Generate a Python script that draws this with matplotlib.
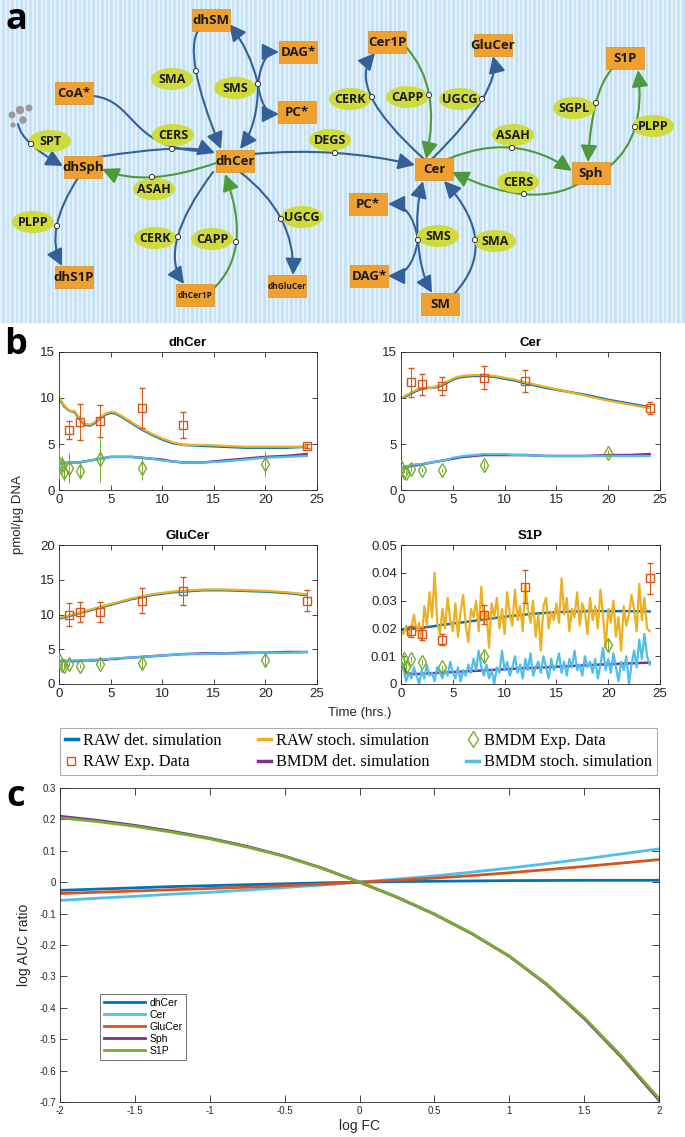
import numpy as np
import matplotlib
matplotlib.use("Agg")
import matplotlib.pyplot as plt
from matplotlib.patches import Rectangle, Ellipse, Circle, FancyArrowPatch
from matplotlib.path import Path
from matplotlib.lines import Line2D

W, H = 685, 1137

# ---------------- Panel a : pathway diagram ----------------
species = ['dhSM', 'DAG*', 'CoA*', 'PC*', 'dhCer', 'dhSph', 'dhS1P', 'dhCer1P', 'dhGluCer',
           'Cer1P', 'GluCer', 'S1P', 'Cer', 'Sph', 'PC*', 'DAG*', 'SM']
species_xy = [(211, 20), (298, 52), (74, 93), (297, 112), (235, 161), (83, 167), (74, 277),
              (195, 295), (287, 286), (387, 42), (493, 45), (625, 58), (434, 169), (591, 173),
              (368, 204), (369, 276), (440, 304)]
enzymes = ['SMA', 'SMS', 'SPT', 'CERS', 'DEGS', 'ASAH', 'PLPP', 'UGCG', 'CERK', 'CAPP',
           'CERK', 'CAPP', 'UGCG', 'SGPL', 'PLPP', 'ASAH', 'CERS', 'SMS', 'SMA']
enzyme_xy = [(172, 79), (235, 88), (50, 141), (173, 135), (330, 140), (154, 189), (33, 222),
             (302, 217), (155, 238), (212, 239), (350, 99), (407, 97), (460, 99), (574, 108),
             (653, 126), (513, 135), (518, 182), (438, 236), (495, 241)]
# reactions: start, reaction point, end, colour key
reactions = [
    ((18, 124), (31, 144), (63, 166), 'b'),
    ((98, 157), (172, 149), (215, 153), 'b'),
    ((199, 29), (196, 71), (221, 149), 'b'),
    ((253, 154), (335, 153), (415, 165), 'b'),
    ((78, 178), (57, 226), (62, 266), 'b'),
    ((213, 172), (178, 237), (184, 284), 'b'),
    ((240, 172), (281, 219), (293, 275), 'b'),
    ((424, 159), (372, 97), (375, 53), 'b'),
    ((432, 159), (482, 99), (493, 56), 'b'),
    ((455, 293), (475, 240), (444, 181), 'b'),
    ((216, 163), (152, 177), (102, 169), 'g'),
    ((212, 290), (236, 242), (225, 174), 'g'),
    ((406, 47), (429, 95), (426, 159), 'g'),
    ((448, 159), (512, 148), (572, 171), 'g'),
    ((580, 183), (524, 194), (452, 172), 'g'),
    ((612, 69), (596, 103), (588, 162), 'g'),
    ((610, 166), (635, 127), (638, 70), 'g'),
]
# branches from SMS reaction points: start, control, end
sms_points = [(258, 84), (418, 240)]
branches = [
    ((258, 84), (250, 50), (229, 24)),
    ((258, 84), (258, 125), (240, 149)),
    ((258, 84), (262, 52), (279, 52)),
    ((258, 84), (262, 114), (279, 114)),
    ((418, 240), (415, 210), (423, 181)),
    ((418, 240), (420, 272), (432, 293)),
    ((418, 240), (412, 204), (388, 204)),
    ((418, 240), (412, 276), (388, 276)),
]
coa_curve = [(93, 96), (135, 100), (130, 148), (200, 151)]
dots_xy = [(12, 115), (20, 110), (29, 108), (23, 120), (13, 125)]
dots_r = [3.5, 4.2, 3.5, 3.8, 2.7]

# ---------------- Panel b : time courses ----------------
T_SIM = [0, 0.5, 1, 1.5, 2, 2.5, 3, 3.5, 4, 4.5, 5, 5.5, 6, 7, 8, 9, 10, 11, 12, 14, 16, 18, 20, 22, 24]
T_RAW = [1, 2, 4, 8, 12, 24]
T_BMDM = [0, 0.25, 0.5, 1, 2, 4, 8, 20]

dhcer_raw_det = [10.0, 9.1, 8.6, 8.5, 7.7, 7.1, 7.0, 7.3, 7.8, 8.2, 8.4, 8.3, 8.0, 7.3, 6.6, 6.0, 5.5, 5.1, 4.9, 4.8, 4.7, 4.6, 4.6, 4.6, 4.7]
dhcer_raw_sto = [10.1, 9.2, 8.6, 8.6, 7.8, 7.2, 7.1, 7.4, 7.9, 8.3, 8.5, 8.4, 8.1, 7.4, 6.7, 6.1, 5.6, 5.2, 4.9, 4.9, 4.8, 4.7, 4.7, 4.7, 4.7]
dhcer_bm_det = [2.8, 2.9, 3.0, 3.0, 3.0, 3.1, 3.2, 3.3, 3.4, 3.5, 3.6, 3.6, 3.6, 3.6, 3.5, 3.4, 3.3, 3.1, 3.0, 3.0, 3.2, 3.4, 3.6, 3.7, 3.9]
dhcer_bm_sto = [2.7, 2.9, 3.0, 3.0, 3.0, 3.1, 3.2, 3.3, 3.4, 3.5, 3.6, 3.6, 3.6, 3.6, 3.5, 3.4, 3.2, 3.1, 3.0, 3.0, 3.1, 3.3, 3.5, 3.6, 3.7]
dhcer_raw_exp = [6.5, 7.4, 7.5, 8.9, 7.1, 4.8]
dhcer_raw_err = [0.95, 1.95, 1.7, 2.2, 1.4, 0.2]
dhcer_bm_exp = [2.9, 2.7, 2.0, 2.4, 2.1, 3.4, 2.4, 2.8]
dhcer_bm_err = [1.7, 1.0, 1.0, 1.6, 0.9, 2.5, 1.35, 1.4]

cer_raw_det = [10.0, 10.2, 10.5, 10.8, 11.0, 11.1, 11.1, 11.2, 11.4, 11.7, 12.0, 12.2, 12.3, 12.4, 12.4, 12.3, 12.1, 11.9, 11.6, 11.1, 10.7, 10.3, 9.8, 9.4, 9.0]
cer_raw_sto = [10.0, 10.3, 10.6, 10.9, 11.1, 11.1, 11.1, 11.3, 11.5, 11.8, 12.1, 12.3, 12.4, 12.5, 12.5, 12.4, 12.2, 12.0, 11.7, 11.2, 10.7, 10.2, 9.7, 9.3, 8.9]
cer_bm_det = [2.4, 2.5, 2.6, 2.7, 2.8, 2.9, 3.0, 3.1, 3.2, 3.3, 3.4, 3.5, 3.6, 3.7, 3.8, 3.8, 3.8, 3.8, 3.8, 3.7, 3.7, 3.7, 3.8, 3.8, 3.9]
cer_bm_sto = [2.5, 2.6, 2.7, 2.8, 2.8, 2.9, 3.0, 3.1, 3.2, 3.3, 3.5, 3.6, 3.7, 3.8, 3.9, 3.9, 3.9, 3.8, 3.8, 3.7, 3.7, 3.7, 3.7, 3.7, 3.7]
cer_raw_exp = [11.7, 11.5, 11.3, 12.2, 11.8, 8.9]
cer_raw_err = [1.6, 1.15, 0.95, 1.25, 1.2, 0.65]
cer_bm_exp = [2.5, 2.0, 1.9, 2.3, 2.2, 2.2, 2.7, 4.0]
cer_bm_err = [0.2, 0.2, 0.2, 0.2, 0.2, 0.2, 0.45, 0.4]

glu_raw_det = [9.4, 9.6, 9.8, 10.0, 10.2, 10.4, 10.6, 10.8, 11.0, 11.2, 11.4, 11.6, 11.8, 12.2, 12.5, 12.8, 13.0, 13.2, 13.3, 13.5, 13.5, 13.4, 13.3, 13.1, 12.8]
glu_raw_sto = [9.5, 9.7, 9.9, 10.1, 10.3, 10.5, 10.7, 10.9, 11.1, 11.3, 11.5, 11.7, 11.9, 12.3, 12.6, 12.9, 13.1, 13.3, 13.4, 13.6, 13.6, 13.5, 13.4, 13.2, 12.9]
glu_bm_det = [3.3, 3.3, 3.3, 3.3, 3.3, 3.4, 3.4, 3.4, 3.5, 3.5, 3.6, 3.6, 3.7, 3.8, 3.9, 4.0, 4.1, 4.2, 4.3, 4.4, 4.4, 4.5, 4.5, 4.6, 4.6]
glu_bm_sto = [3.3, 3.3, 3.3, 3.4, 3.4, 3.4, 3.5, 3.5, 3.5, 3.6, 3.6, 3.7, 3.7, 3.8, 3.9, 4.0, 4.1, 4.2, 4.3, 4.3, 4.4, 4.4, 4.5, 4.5, 4.6]
glu_raw_exp = [10.0, 10.4, 10.3, 12.0, 13.4, 12.0]
glu_raw_err = [1.65, 1.45, 1.45, 1.8, 2.05, 1.55]
glu_bm_exp = [3.4, 2.8, 2.6, 2.9, 2.6, 2.9, 3.0, 3.5]
glu_bm_err = [0.8, 0.5, 0.4, 0.3, 0.3, 0.4, 0.7, 1.05]

s1p_raw_det = [0.0195, 0.0195, 0.0198, 0.0200, 0.0202, 0.0205, 0.0207, 0.0210, 0.0213, 0.0215, 0.0218, 0.0220, 0.0222,
               0.0227, 0.0232, 0.0237, 0.0242, 0.0246, 0.0250, 0.0256, 0.0260, 0.0262, 0.0262, 0.0262, 0.0261]
s1p_bm_det = [0.0080, 0.0042, 0.0036, 0.0036, 0.0037, 0.0038, 0.0039, 0.0040, 0.0041, 0.0042, 0.0043, 0.0044, 0.0045,
              0.0047, 0.0049, 0.0051, 0.0053, 0.0055, 0.0057, 0.0060, 0.0064, 0.0068, 0.0071, 0.0074, 0.0077]
s1p_raw_sto = [0.019, 0.018, 0.021, 0.017, 0.020, 0.025, 0.019, 0.022, 0.016, 0.028, 0.021, 0.033, 0.024,
               0.040, 0.022, 0.018, 0.027, 0.020, 0.031, 0.023, 0.019, 0.029, 0.017, 0.026, 0.032,
               0.021, 0.015, 0.027, 0.024, 0.030, 0.019, 0.035, 0.022, 0.026, 0.013, 0.029, 0.024,
               0.031, 0.020, 0.027, 0.018, 0.033, 0.025, 0.021, 0.034, 0.023, 0.028, 0.019, 0.036,
               0.027, 0.022, 0.030, 0.017, 0.025, 0.012, 0.028, 0.031, 0.020, 0.026, 0.023, 0.029,
               0.022, 0.038, 0.025, 0.031, 0.019, 0.027, 0.024, 0.033, 0.021, 0.029, 0.026, 0.018,
               0.031, 0.023, 0.028, 0.020, 0.034, 0.025, 0.013, 0.027, 0.022, 0.030, 0.017, 0.024,
               0.012, 0.028, 0.021, 0.025, 0.032, 0.027, 0.019, 0.036, 0.023, 0.031, 0.020, 0.019]
s1p_bm_sto = [0.008, 0.005, 0.001, 0.004, 0.002, 0.006, 0.003, 0.000, 0.005, 0.002, 0.007, 0.003, 0.004,
              0.001, 0.006, 0.004, 0.002, 0.005, 0.003, 0.008, 0.004, 0.002, 0.006, 0.001, 0.005,
              0.003, 0.007, 0.004, 0.009, 0.005, 0.012, 0.006, 0.003, 0.007, 0.002, 0.005, 0.000,
              0.006, 0.004, 0.012, 0.005, 0.008, 0.003, 0.006, 0.010, 0.004, 0.007, 0.002, 0.009,
              0.005, 0.011, 0.003, 0.006, 0.008, 0.004, 0.010, 0.006, 0.002, 0.009, 0.005, 0.007,
              0.011, 0.004, 0.008, 0.003, 0.009, 0.006, 0.012, 0.005, 0.007, 0.003, 0.010, 0.006,
              0.008, 0.004, 0.009, 0.002, 0.007, 0.013, 0.005, 0.009, 0.004, 0.011, 0.006, 0.001,
              0.008, 0.005, 0.010, 0.000, 0.007, 0.012, 0.006, 0.016, 0.009, 0.018, 0.010, 0.007]
s1p_raw_exp = [0.019, 0.018, 0.016, 0.025, 0.035, 0.038]
s1p_raw_err = [0.002, 0.002, 0.002, 0.0035, 0.006, 0.0055]
s1p_bm_exp = [0.008, 0.009, 0.006, 0.009, 0.008, 0.006, 0.010, 0.014]
s1p_bm_err = [0.0015, 0.0015, 0.0015, 0.001, 0.001, 0.001, 0.002, 0.0025]

legend_b_labels = ['RAW det. simulation', 'RAW Exp. Data', 'RAW stoch. simulation',
                   'BMDM det. simulation', 'BMDM Exp. Data', 'BMDM stoch. simulation']

# ---------------- Panel c : sensitivity ----------------
log_fc = [-2, -1.75, -1.5, -1.25, -1, -0.75, -0.5, -0.25, 0, 0.25, 0.5, 0.75, 1, 1.25, 1.5, 1.75, 2]
c_dhcer = [-0.026, -0.022, -0.018, -0.014, -0.011, -0.008, -0.005, -0.002, 0.0, 0.002, 0.003, 0.004, 0.005, 0.0055, 0.006, 0.006, 0.006]
c_cer = [-0.058, -0.051, -0.045, -0.038, -0.032, -0.025, -0.017, -0.009, 0.0, 0.010, 0.020, 0.032, 0.045, 0.059, 0.074, 0.090, 0.106]
c_glucer = [-0.036, -0.032, -0.028, -0.024, -0.020, -0.016, -0.011, -0.006, 0.0, 0.006, 0.013, 0.021, 0.030, 0.040, 0.050, 0.061, 0.072]
c_sph = [0.210, 0.197, 0.181, 0.162, 0.140, 0.114, 0.083, 0.045, 0.0, -0.048, -0.102, -0.164, -0.236, -0.326, -0.434, -0.558, -0.694]
c_s1p = [0.205, 0.193, 0.178, 0.159, 0.138, 0.112, 0.082, 0.044, 0.0, -0.047, -0.101, -0.163, -0.235, -0.324, -0.431, -0.554, -0.689]
c_labels = ['dhCer', 'Cer', 'GluCer', 'Sph', 'S1P']

# ---------------- styling ----------------
C_RAWDET = '#0072BD'
C_RAWSTO = '#EDB120'
C_BMDET = '#7E2F8E'
C_BMSTO = '#4DBEEE'
C_RAWEXP = '#D95319'
C_BMEXP = '#77AC30'
AX_COL = '0.15'
EDGE_B = '#34609A'
EDGE_G = '#4E9A3A'
BOX_C = '#F0A02E'
ELL_C = '#CFDB3A'
SANS = ['Liberation Sans', 'DejaVu Sans']
NARROW = ['Liberation Sans Narrow', 'Open Sans', 'DejaVu Sans']

plt.rcParams['font.family'] = SANS

fig = plt.figure(figsize=(W / 100, H / 100), dpi=100)


def rect(l, t, r, b):
    return [l / W, 1 - b / H, (r - l) / W, (b - t) / H]


# ---- panel a
axa = fig.add_axes(rect(0, 0, 685, 325))
axa.set_xlim(0, 685)
axa.set_ylim(325, 0)
axa.axis('off')
axa.add_patch(Rectangle((0, 0), 685, 323, facecolor='#C6E2F5', edgecolor='none', zorder=0))
for xs in np.arange(1.5, 685, 4.5):
    axa.plot([xs, xs], [0, 323], color='#E8F3FB', lw=1.3, zorder=0.5, solid_capstyle='butt')

for (dx, dy), r in zip(dots_xy, dots_r):
    axa.add_patch(Circle((dx, dy), r, facecolor='#9A9A9A', edgecolor='none', zorder=3))

arrow_style = '-|>,head_length=1.0,head_width=0.5'


def quad(p0, c, p2, col, arrow=True):
    path = Path([p0, c, p2], [Path.MOVETO, Path.CURVE3, Path.CURVE3])
    fa = FancyArrowPatch(path=path, arrowstyle=arrow_style if arrow else '-', mutation_scale=10,
                         color=col, lw=1.5, zorder=2)
    axa.add_patch(fa)


for p0, pm, p2, ck in reactions:
    p0a, pma, p2a = np.array(p0, float), np.array(pm, float), np.array(p2, float)
    ctrl = 2 * pma - 0.5 * (p0a + p2a)
    col = EDGE_B if ck == 'b' else EDGE_G
    quad(tuple(p0a), tuple(ctrl), tuple(p2a), col)
    axa.add_patch(Circle(pm, 2.6, facecolor='white', edgecolor='#333333', lw=0.7, zorder=5))

for p0, c, p2 in branches:
    quad(p0, c, p2, EDGE_B)
for p in sms_points:
    axa.add_patch(Circle(p, 2.6, facecolor='white', edgecolor='#333333', lw=0.7, zorder=5))

coa_path = Path(coa_curve, [Path.MOVETO, Path.CURVE4, Path.CURVE4, Path.CURVE4])
axa.add_patch(FancyArrowPatch(path=coa_path, arrowstyle='-', color=EDGE_B, lw=1.5, zorder=2))

for name, (x, y) in zip(enzymes, enzyme_xy):
    axa.add_patch(Ellipse((x, y), 42, 22, facecolor=ELL_C, edgecolor='none', zorder=3))
    axa.text(x, y + 0.5, name, ha='center', va='center', fontsize=9, fontweight='bold',
             family=NARROW, color='#1a1a1a', zorder=4)

for name, (x, y) in zip(species, species_xy):
    small = name in ('dhCer1P', 'dhGluCer')
    axa.add_patch(Rectangle((x - 19, y - 11), 38, 22, facecolor=BOX_C, edgecolor='#D89020',
                            lw=0.5, zorder=3))
    axa.text(x, y + 0.5, name, ha='center', va='center', fontsize=6 if small else 9.5,
             fontweight='bold', family=NARROW, color='#1a1a1a', zorder=4)

fig.text(16 / W, 1 - 20 / H, 'a', fontsize=26, fontweight='bold', family=['Open Sans', 'DejaVu Sans'],
         ha='center', va='center')
fig.text(16 / W, 1 - 345 / H, 'b', fontsize=26, fontweight='bold', family=['Open Sans', 'DejaVu Sans'],
         ha='center', va='center')
fig.text(16 / W, 1 - 797 / H, 'c', fontsize=26, fontweight='bold', family=['Open Sans', 'DejaVu Sans'],
         ha='center', va='center')


def style_ax(ax, fs):
    for s in ax.spines.values():
        s.set_color(AX_COL)
        s.set_linewidth(0.6)
    ax.tick_params(direction='in', top=True, right=True, length=3.5, width=0.6, colors=AX_COL,
                   labelsize=fs, pad=3)


panels = [
    ('dhCer', rect(59, 352, 317, 490), dhcer_raw_det, dhcer_raw_sto, dhcer_bm_det, dhcer_bm_sto,
     dhcer_raw_exp, dhcer_raw_err, dhcer_bm_exp, dhcer_bm_err, [0, 5, 10, 15], ['0', '5', '10', '15'], None),
    ('Cer', rect(401, 352, 660, 490), cer_raw_det, cer_raw_sto, cer_bm_det, cer_bm_sto,
     cer_raw_exp, cer_raw_err, cer_bm_exp, cer_bm_err, [0, 5, 10, 15], ['0', '5', '10', '15'], None),
    ('GluCer', rect(59, 545, 317, 684), glu_raw_det, glu_raw_sto, glu_bm_det, glu_bm_sto,
     glu_raw_exp, glu_raw_err, glu_bm_exp, glu_bm_err, [0, 5, 10, 15, 20], ['0', '5', '10', '15', '20'], None),
    ('S1P', rect(401, 545, 660, 684), s1p_raw_det, s1p_raw_sto, s1p_bm_det, s1p_bm_sto,
     s1p_raw_exp, s1p_raw_err, s1p_bm_exp, s1p_bm_err, [0, 0.01, 0.02, 0.03, 0.04, 0.05],
     ['0', '0.01', '0.02', '0.03', '0.04', '0.05'], 'noisy'),
]

for (title, pos, rdet, rsto, bdet, bsto, rexp, rerr, bexp, berr, yt, ytl, kind) in panels:
    ax = fig.add_axes(pos)
    ax.plot(T_SIM, rdet, color=C_RAWDET, lw=1.8, zorder=2)
    if kind == 'noisy':
        ax.plot(np.linspace(0, 24, len(rsto)), rsto, color=C_RAWSTO, lw=1.6, zorder=2.1)
    else:
        ax.plot(T_SIM, rsto, color=C_RAWSTO, lw=1.6, zorder=2.1)
    ax.plot(T_SIM, bdet, color=C_BMDET, lw=1.8, zorder=2.2)
    if kind == 'noisy':
        ax.plot(np.linspace(0, 24, len(bsto)), bsto, color=C_BMSTO, lw=1.6, zorder=2.3)
    else:
        ax.plot(T_SIM, bsto, color=C_BMSTO, lw=1.6, zorder=2.3)
    ax.errorbar(T_RAW, rexp, yerr=rerr, fmt='s', ms=5.5, mfc='none', mec=C_RAWEXP, mew=1.0,
                ecolor=C_RAWEXP, elinewidth=0.7, capsize=2.2, capthick=0.7, zorder=3)
    ax.errorbar(T_BMDM, bexp, yerr=berr, fmt='d', ms=7, mfc='none', mec=C_BMEXP, mew=1.0,
                ecolor=C_BMEXP, elinewidth=0.7, capsize=0, zorder=3)
    ax.set_xlim(0, 25)
    ax.set_ylim(yt[0], yt[-1])
    ax.set_xticks([0, 5, 10, 15, 20, 25])
    ax.set_xticklabels(['0', '5', '10', '15', '20', '25'])
    ax.set_yticks(yt)
    ax.set_yticklabels(ytl)
    ax.set_title(title, fontsize=9.5, fontweight='bold', color='black', pad=4)
    style_ax(ax, 9.5)

fig.text(18 / W, 1 - 515 / H, 'pmol/µg DNA', rotation=90, ha='center', va='center', fontsize=9.5, color=AX_COL)
fig.text(360 / W, 1 - 713 / H, 'Time (hrs.)', ha='center', va='center', fontsize=9.5, color=AX_COL)

handles_b = [
    Line2D([], [], color=C_RAWDET, lw=2.5),
    Line2D([], [], ls='none', marker='s', ms=6, mfc='none', mec=C_RAWEXP, mew=1.0),
    Line2D([], [], color=C_RAWSTO, lw=2.5),
    Line2D([], [], color=C_BMDET, lw=2.5),
    Line2D([], [], ls='none', marker='d', ms=8, mfc='none', mec=C_BMEXP, mew=1.0),
    Line2D([], [], color=C_BMSTO, lw=2.5),
]
leg = fig.legend(handles_b, legend_b_labels, ncol=3, mode='expand',
                 bbox_to_anchor=(60 / W, 1 - 776 / H, 597 / W, 49 / H), loc='center',
                 prop={'family': ['Liberation Serif', 'DejaVu Serif'], 'size': 11.8},
                 handlelength=0.8, handletextpad=0.3, labelspacing=0.35, borderpad=0.3,
                 fancybox=False, frameon=True, borderaxespad=0)
leg.get_frame().set_edgecolor('0.6')
leg.get_frame().set_linewidth(0.8)

# ---- panel c
axc = fig.add_axes(rect(60, 788, 659, 1102))
c_cols = [C_RAWDET, C_BMSTO, C_RAWEXP, C_BMDET, C_BMEXP]
for vals, col, lab in zip([c_dhcer, c_cer, c_glucer, c_sph, c_s1p], c_cols, c_labels):
    axc.plot(log_fc, vals, color=col, lw=2.0, label=lab)
axc.set_xlim(-2, 2)
axc.set_ylim(-0.7, 0.3)
xt = [-2, -1.5, -1, -0.5, 0, 0.5, 1, 1.5, 2]
axc.set_xticks(xt)
axc.set_xticklabels(['-2', '-1.5', '-1', '-0.5', '0', '0.5', '1', '1.5', '2'])
yt = [-0.7, -0.6, -0.5, -0.4, -0.3, -0.2, -0.1, 0, 0.1, 0.2, 0.3]
axc.set_yticks(yt)
axc.set_yticklabels(['-0.7', '-0.6', '-0.5', '-0.4', '-0.3', '-0.2', '-0.1', '0', '0.1', '0.2', '0.3'])
style_ax(axc, 7)
axc.tick_params(length=5)
axc.set_xlabel('log FC', fontsize=10, color=AX_COL, labelpad=2)
axc.set_ylabel('log AUC ratio', fontsize=10, color=AX_COL, labelpad=6)
lc = axc.legend(loc='upper left', bbox_to_anchor=((100 - 60) / 599, (1102 - 994) / 314),
                fontsize=7.5, handlelength=4.0, handletextpad=0.4, labelspacing=0.2,
                borderpad=0.35, fancybox=False, borderaxespad=0)
lc.get_frame().set_edgecolor('0.3')
lc.get_frame().set_linewidth(0.7)
for l in lc.get_lines():
    l.set_linewidth(2.0)

fig.savefig('out.png', dpi=100)
